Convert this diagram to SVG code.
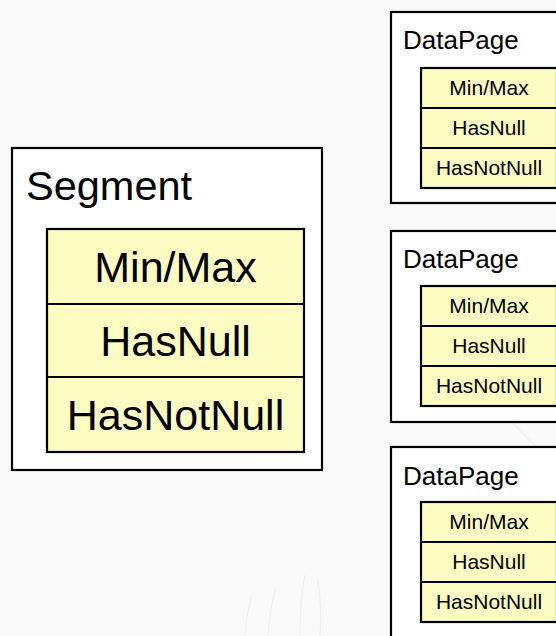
<svg xmlns="http://www.w3.org/2000/svg" width="556" height="636" viewBox="0 0 556 636">
  <style>
    .frame { fill: #ffffff; stroke: #000000; stroke-width: 2.2; }
    .stats { fill: #fdfcc2; stroke: #000000; stroke-width: 2.2; }
    .rule { stroke: #000000; stroke-width: 2.2; }
    text { font-family: "Liberation Sans", Arial, Helvetica, sans-serif; fill: #000000; }
    .title-big { font-size: 41.5px; }
    .cell-big { font-size: 43px; text-anchor: middle; }
    .title-small { font-size: 26px; }
    .cell-small { font-size: 21px; text-anchor: middle; }
    .bg-arc { fill: none; stroke: #efefef; stroke-width: 1; }
  </style>

  <!-- backdrop -->
  <rect x="0" y="0" width="556" height="636" fill="#f9f9f9"/>
  <g id="backdrop-arcs">
    <path class="bg-arc" d="M245 636 Q247 610 252 596"/>
    <path class="bg-arc" d="M268 636 Q270 606 276 588"/>
    <path class="bg-arc" d="M300 636 Q300 600 305 575"/>
    <path class="bg-arc" d="M320 636 Q322 610 318 580"/>
    <path class="bg-arc" d="M520 250 Q540 280 556 300"/>
    <path class="bg-arc" d="M510 420 Q535 445 556 470"/>
  </g>

  <!-- Segment with its statistics -->
  <g id="segment">
    <rect class="frame" x="12" y="148" width="310" height="322"/>
    <text class="title-big" x="26" y="200">Segment</text>
    <rect class="stats" x="47" y="229" width="257" height="223"/>
    <line class="rule" x1="47" y1="304" x2="304" y2="304"/>
    <line class="rule" x1="47" y1="377" x2="304" y2="377"/>
    <text class="cell-big" x="175.5" y="282">Min/Max</text>
    <text class="cell-big" x="175.5" y="356">HasNull</text>
    <text class="cell-big" x="175.5" y="430">HasNotNull</text>
  </g>

  <!-- DataPage 1 -->
  <g id="datapage-1">
    <rect class="frame" x="391" y="12" width="200" height="191"/>
    <text class="title-small" x="403" y="49">DataPage</text>
    <rect class="stats" x="421" y="68" width="136" height="120"/>
    <line class="rule" x1="421" y1="108" x2="557" y2="108"/>
    <line class="rule" x1="421" y1="148" x2="557" y2="148"/>
    <text class="cell-small" x="489" y="95">Min/Max</text>
    <text class="cell-small" x="489" y="135">HasNull</text>
    <text class="cell-small" x="489" y="175">HasNotNull</text>
  </g>

  <!-- DataPage 2 -->
  <g id="datapage-2">
    <rect class="frame" x="391" y="231" width="200" height="191"/>
    <text class="title-small" x="403" y="268">DataPage</text>
    <rect class="stats" x="421" y="286" width="136" height="120"/>
    <line class="rule" x1="421" y1="326" x2="557" y2="326"/>
    <line class="rule" x1="421" y1="366" x2="557" y2="366"/>
    <text class="cell-small" x="489" y="313">Min/Max</text>
    <text class="cell-small" x="489" y="353">HasNull</text>
    <text class="cell-small" x="489" y="393">HasNotNull</text>
  </g>

  <!-- DataPage 3 -->
  <g id="datapage-3">
    <rect class="frame" x="391" y="447" width="200" height="191"/>
    <text class="title-small" x="403" y="485">DataPage</text>
    <rect class="stats" x="421" y="502" width="136" height="120"/>
    <line class="rule" x1="421" y1="542" x2="557" y2="542"/>
    <line class="rule" x1="421" y1="582" x2="557" y2="582"/>
    <text class="cell-small" x="489" y="529">Min/Max</text>
    <text class="cell-small" x="489" y="569">HasNull</text>
    <text class="cell-small" x="489" y="609">HasNotNull</text>
  </g>

  <g id="connectors"/>
</svg>
